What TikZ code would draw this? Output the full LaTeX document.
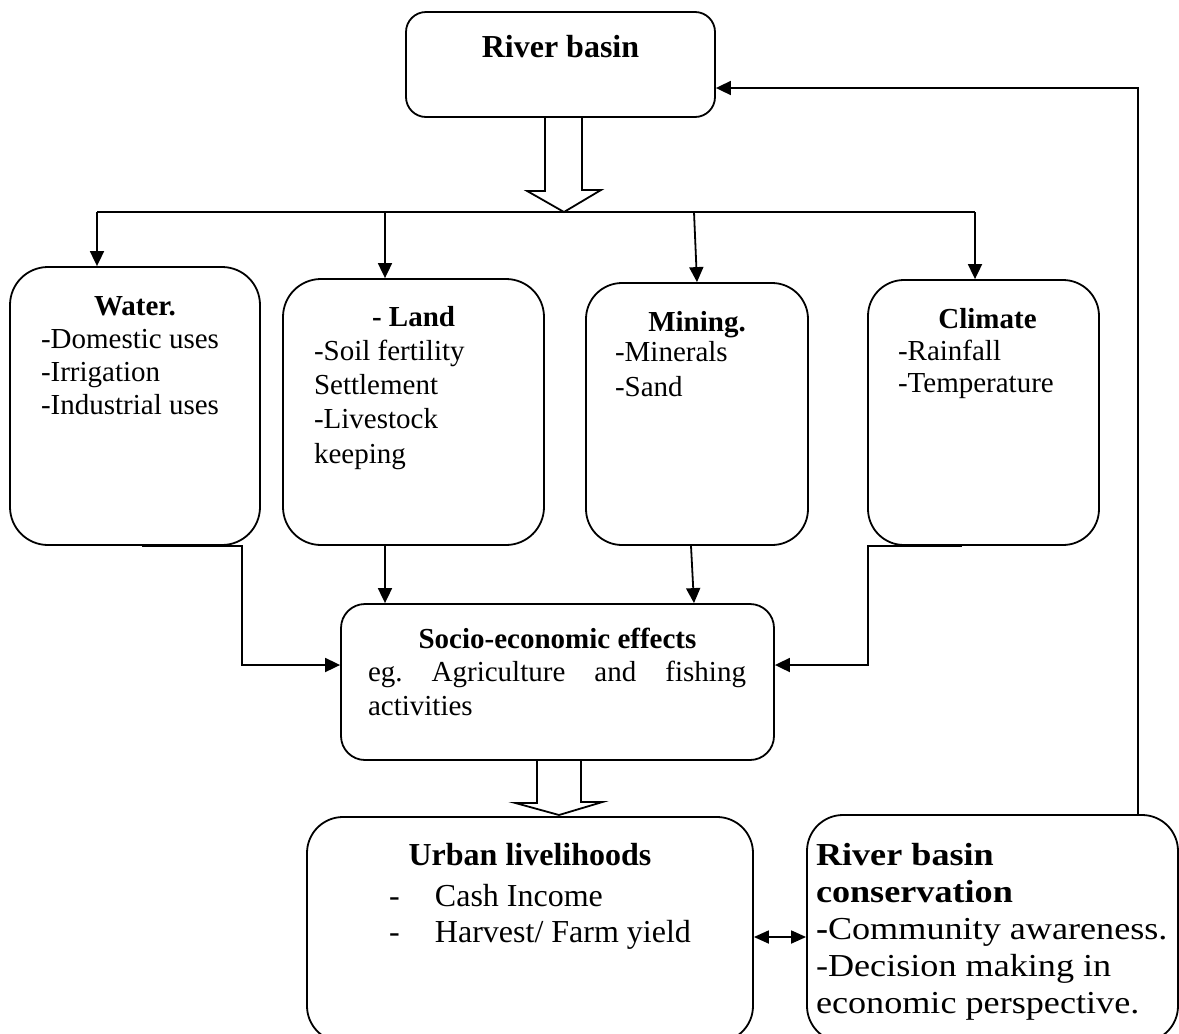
\documentclass[tikz,border=0pt]{standalone}
\usepackage{fontspec}
\usepackage{graphicx}
\setmainfont{Liberation Serif}
\usetikzlibrary{arrows.meta,positioning,calc}

\newcommand{\itemrows}[1]{\begin{tabular}[t]{@{}l@{}}#1\end{tabular}}

\begin{document}
\begin{tikzpicture}[x=1pt, y=-1pt, line width=1.8pt,
  box/.style={draw, rounded corners=#1}, box/.default=36pt,
  head/.style={inner sep=0pt, anchor=base, font=\fontsize{29}{33}\selectfont\bfseries},
  body/.style={inner sep=0pt, anchor=base west, font=\fontsize{29}{33}\selectfont},
  arr/.style={-{Triangle[length=15pt,width=14pt]}},
  arrboth/.style={{Triangle[length=15pt,width=13pt]}-{Triangle[length=15pt,width=13pt]}}]
\useasboundingbox (0,0) rectangle (1179,1034);

% boxes
\node[box=20pt, minimum width=309pt, minimum height=105pt] (basin) at (560.5,64.5) {};
\node[box=38pt, minimum width=250pt, minimum height=278pt] (water) at (135,406) {};
\node[box=38pt, minimum width=261pt, minimum height=266pt] (land) at (413.5,412) {};
\node[box, minimum width=222pt, minimum height=262pt] (mining) at (697,414) {};
\node[box, minimum width=231pt, minimum height=265pt] (climate) at (983.5,412.5) {};
\node[box=24pt, minimum width=433pt, minimum height=156pt] (socio) at (557.5,682) {};
\node[box, minimum width=446pt, minimum height=225pt] (urban) at (530,929.5) {};
\node[box, minimum width=371pt, minimum height=227pt] (cons) at (992.5,928.5) {};

% texts
\node[head, font=\fontsize{32}{36}\selectfont\bfseries] (basinT) at ($(basin.north)+(0,46)$) {River basin};
\node[head] (waterT) at ($(water.north)+(0,49)$) {Water.};
\node[body] (waterL) at ($(water.north west)+(31,82)$) {\itemrows{-Domestic uses\\-Irrigation\\-Industrial uses}};
\node[head] (landT) at ($(land.north)+(0,48)$) {- Land};
\node[body, font=\fontsize{29}{34.3}\selectfont] (landL) at ($(land.north west)+(31,82)$) {\itemrows{-Soil fertility\\Settlement\\-Livestock\\keeping}};
\node[head] (miningT) at ($(mining.north)+(0,49)$) {Mining.};
\node[body, font=\fontsize{29}{35}\selectfont] (miningL) at ($(mining.north west)+(29,79)$) {\itemrows{-Minerals\\-Sand}};
\node[head] (climateT) at ($(climate.north)+(4,49)$) {Climate};
\node[body, font=\fontsize{29}{32}\selectfont] (climateL) at ($(climate.north west)+(30,81)$) {\itemrows{-Rainfall\\-Temperature}};
\node[head] (socioT) at ($(socio.north)+(0,45)$) {Socio-economic effects};
\node[body, font=\fontsize{29}{34}\selectfont] (socioL) at ($(socio.north west)+(27,78)$) {\parbox[t]{378pt}{eg.\hfill Agriculture\hfill and\hfill fishing\\activities}};
\node[head, font=\fontsize{32}{36}\selectfont\bfseries] (urbanT) at ($(urban.north)+(0,49)$) {Urban livelihoods};
\node[body, font=\fontsize{32}{36}\selectfont] (urbanL) at ($(urban.north west)+(82,90)$) {\itemrows{\makebox[46pt][l]{-}Cash Income\\\makebox[46pt][l]{-}Harvest/ Farm yield}};
\node[body, font=\fontsize{32}{37}\selectfont] (consL) at ($(cons.north west)+(9,51)$) {\scalebox{1.13}[1]{\itemrows{\textbf{River basin}\\\textbf{conservation}\\\textbf{-}Community awareness.\\-Decision making in\\economic perspective.}}};

% connectors
\coordinate (hub) at (564,212);
\coordinate (busW) at (97,212);
\coordinate (busL) at (385,212);
\coordinate (busM) at (694,212);
\coordinate (busE) at (975,212);
\draw (hub |- basin.south) ++(-19,0) -- ++(0,73) -- ++(-18,0) -- (hub) -- ++(37,-22) -- ++(-19,0) -- ++(0,-73);
\draw (busW) -- (busE);
\draw[arr] (busW) -- (busW |- water.north);
\draw[arr] (busL) -- (busL |- land.north);
\draw[arr] (busM) -- (mining.north);
\draw[arr] (busE) -- (busE |- climate.north);

\coordinate (jW) at (242,665);
\coordinate (jC) at (868,665);
\draw[arr] ($(water.south)+(7,0)$) -| (jW) -- (jW -| socio.west);
\draw[arr] (busL |- land.south) -- (busL |- socio.north);
\draw[arr] ($(mining.south)+(-6,0)$) -- ($(mining.south |- socio.north)+(-3,0)$);
\draw[arr] ($(climate.south)+(-21.5,0)$) -| (jC) -- (jC -| socio.east);

\coordinate (hub2) at (559,815);
\draw (hub2 |- socio.south) ++(-22,0) -- ++(0,42) -- ++(-22,0) -- (hub2) -- ++(43.5,-13) -- ++(-21.5,0) -- ++(0,-42);

\coordinate (fb) at (1138,88);
\draw[arr] (fb |- cons.north) -- (fb) -- (fb -| basin.east);
\coordinate (dbl) at (780,937);
\draw[arrboth] (dbl -| urban.east) -- (dbl -| cons.west);
\end{tikzpicture}
\end{document}
